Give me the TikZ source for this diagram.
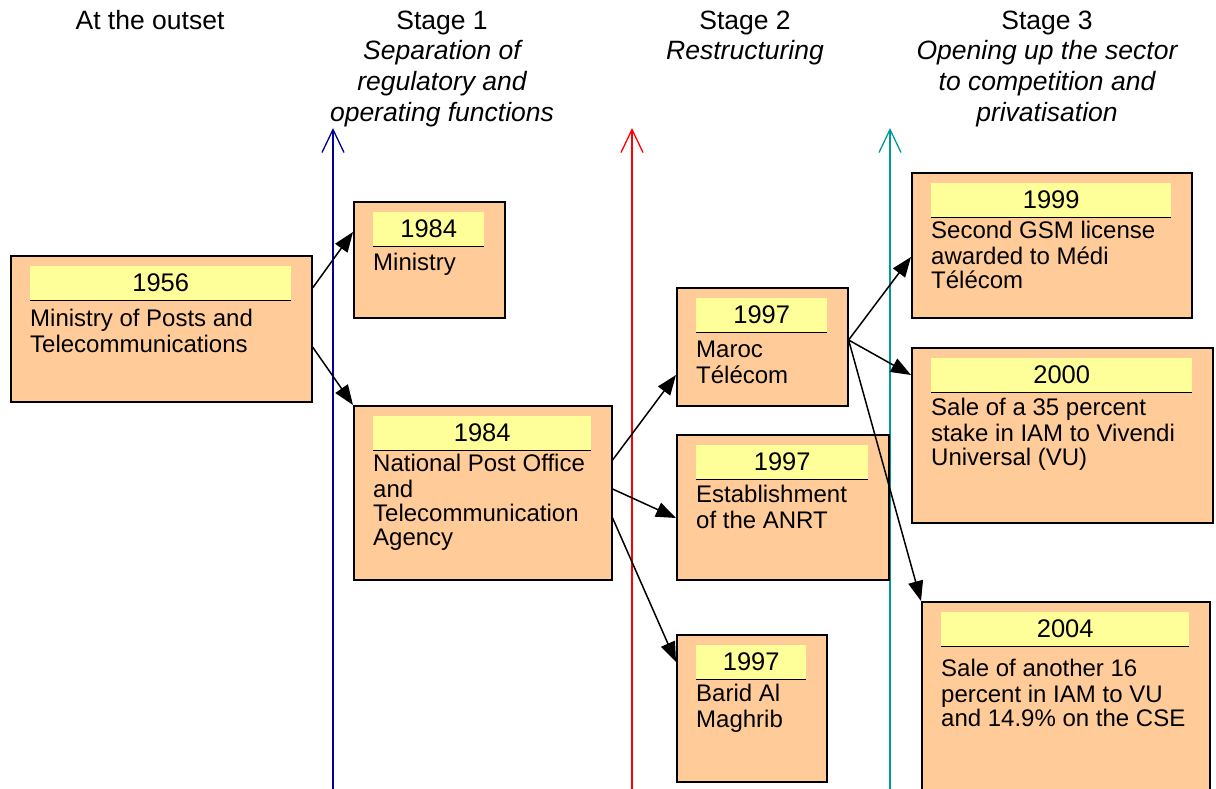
\documentclass[tikz,border=0pt]{standalone}
\usepackage{fontspec}
\setmainfont{Liberation Sans}
\usetikzlibrary{arrows.meta}
\definecolor{peach}{RGB}{255,204,153}
\definecolor{lemon}{RGB}{255,255,153}
\definecolor{navyline}{RGB}{0,0,153}
\definecolor{redline}{RGB}{255,0,0}
\definecolor{tealline}{RGB}{0,153,153}
\tikzset{
  evbox/.style={draw=black, line width=1.6pt, fill=peach, inner sep=0pt},
  evhead/.style={fill=lemon, minimum height=34pt, inner sep=0pt, font=\fontsize{25.5}{26}\selectfont},
  evrule/.style={draw=black, line width=1pt},
  evtext/.style={align=left, inner sep=0pt, font=\fontsize{24}{24.3}\selectfont},
  hdtext/.style={align=center, inner sep=0pt, font=\fontsize{26.5}{30.7}\selectfont},
  stageline/.style={line width=1.5pt, -{Straight Barb[length=23pt,width=22pt,line width=1.3pt]}},
  conn/.style={draw=black, line width=1.5pt, -{Triangle[length=20pt,width=15pt]}},
}
\newcommand\evbox[8]{%
  \node[evbox, minimum width={(#4-#2)*1pt}, minimum height={(#5-#3)*1pt}, anchor=north west] (#1) at (#2,#3) {};
  \node[evhead, minimum width={(#4-#2-40)*1pt}, anchor=north west] (#1y) at ({#2+20},{#3+11}) {#6};
  \draw[evrule] (#1y.south west) -- (#1y.south east);
  \node[evtext, anchor=north west] (#1t) at ({#2+20},{#7-17}) {\strut #8};
}
\begin{document}
\begin{tikzpicture}[x=1pt,y=-1pt]
\clip (0,0) rectangle (1216,789);
\fill[white] (0,0) rectangle (1216,789);

% column headings
\node[hdtext, anchor=north] (h0) at (150,7.5) {\strut At the outset};
\node[hdtext, anchor=north] (h1) at (442,7.5) {\strut Stage 1\\\itshape Separation of\\\itshape regulatory and\\\itshape operating functions};
\node[hdtext, anchor=north] (h2) at (745,7.5) {\strut Stage 2\\\itshape Restructuring};
\node[hdtext, anchor=north] (h3) at (1047,7.5) {\strut Stage 3\\\itshape Opening up the sector\\\itshape to competition and\\\itshape privatisation};

% stage separators
\coordinate (s1b) at (333,800); \coordinate (s1t) at (333,128);
\coordinate (s2b) at (632,800); \coordinate (s2t) at (632,128);
\coordinate (s3b) at (890,800); \coordinate (s3t) at (890,128);
\draw[stageline, navyline] (s1b) -- (s1t);
\draw[stageline, redline] (s2b) -- (s2t);
\draw[stageline, tealline] (s3b) -- (s3t);

% boxes
\evbox{A}{10}{255}{311}{401}{1956}{326}{Ministry of Posts and\\Telecommunications}
\evbox{B}{353}{201}{504}{317}{1984}{270}{Ministry}
\evbox{C}{353}{405}{611}{579}{1984}{471}{National Post Office\\and\\Telecommunication\\Agency}
\evbox{D}{676}{287}{847}{405}{1997}{357}{Maroc\\Télécom}
\evbox{E}{676}{434}{888}{579}{1997}{502}{Establishment\\of the ANRT}
\evbox{F}{676}{634}{826}{781}{1997}{701}{Barid Al\\Maghrib}
\evbox{G}{911}{172}{1191}{317}{1999}{238}{Second GSM license\\awarded to Médi\\Télécom}
\evbox{H}{911}{347}{1212}{522}{2000}{415}{Sale of a 35 percent\\stake in IAM to Vivendi\\Universal (VU)}
\evbox{I}{921}{601}{1209}{830}{2004}{676}{Sale of another 16\\percent in IAM to VU\\and 14.9\% on the CSE}

% connectors
\draw[conn] ([yshift=-33pt]A.north east) -- ([yshift=-31pt]B.north west);
\draw[conn] ([yshift=-92pt]A.north east) -- (C.north west);
\draw[conn] ([yshift=-55pt]C.north east) -- ([yshift=-88pt]D.north west);
\draw[conn] ([yshift=-84pt]C.north east) -- ([yshift=-84pt]E.north west);
\draw[conn] ([yshift=-113pt]C.north east) -- ([yshift=-28pt]F.north west);
\draw[conn] ([yshift=-53pt]D.north east) -- ([yshift=-85pt]G.north west);
\draw[conn] ([yshift=-53pt]D.north east) -- ([yshift=-28pt]H.north west);
\draw[conn] ([yshift=-53pt]D.north east) -- (I.north west);
\end{tikzpicture}
\end{document}
